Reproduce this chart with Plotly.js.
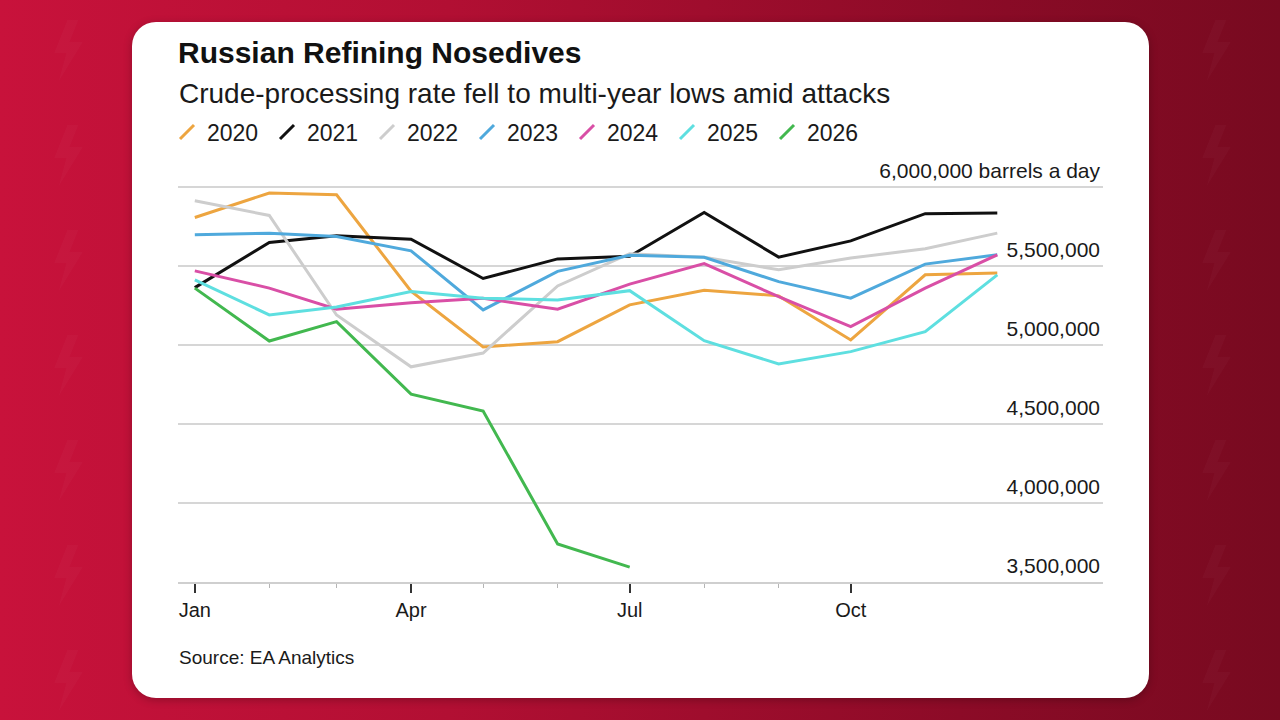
<!DOCTYPE html>
<html>
<head>
<meta charset="utf-8">
<script src="https://cdn.plot.ly/plotly-3.0.1.min.js"></script>
<style>
  html, body { margin:0; padding:0; width:1280px; height:720px; overflow:hidden; }
  body { background: linear-gradient(90deg, #c8123b 0%, #b20f33 35%, #8c0b27 75%, #780a20 100%); position:relative; font-family:"Liberation Sans", Arial, sans-serif; }
  #bg { position:absolute; left:0; top:0; width:1280px; height:720px; }
  #card { position:absolute; left:132px; top:22px; width:1017px; height:676px; background:#fff; border-radius:24px; box-shadow: 0 2px 8px rgba(0,0,0,0.25); }
  #chart { position:absolute; left:0; top:0; width:1280px; height:720px; }
</style>
</head>
<body>
<svg id="bg" width="1280" height="720"></svg>
<div id="card"></div>
<div id="chart"></div>
<script>
// ---- data (barrels a day) ----
const months = ['2021-01-01','2021-02-01','2021-03-01','2021-04-01','2021-05-01','2021-06-01',
                '2021-07-01','2021-08-01','2021-09-01','2021-10-01','2021-11-01','2021-12-01'];
const years = ['2020','2021','2022','2023','2024','2025','2026'];
const y2020 = [5807000,5962000,5951000,5340000,4987000,5021000,5254000,5347000,5311000,5032000,5444000,5455000];
const y2021 = [5363000,5649000,5691000,5670000,5421000,5545000,5562000,5839000,5556000,5659000,5831000,5835000];
const y2022 = [5913000,5820000,5190000,4862000,4949000,5374000,5578000,5556000,5476000,5550000,5609000,5708000];
const y2023 = [5698000,5708000,5687000,5596000,5222000,5466000,5568000,5555000,5401000,5296000,5512000,5571000];
const y2024 = [5469000,5360000,5226000,5268000,5296000,5226000,5385000,5515000,5306000,5116000,5360000,5571000];
const y2025 = [5412000,5190000,5240000,5338000,5296000,5285000,5344000,5027000,4880000,4958000,5084000,5444000];
const y2026 = [5360000,5025000,5148000,4689000,4582000,3741000,3594000];
const series = [y2020,y2021,y2022,y2023,y2024,y2025,y2026];
const colors = ['#eda540','#111111','#cdcdcd','#4fa9dc','#d94fa6','#5edfe0','#42b84f'];
const yTickVals = [3500000,4000000,4500000,5000000,5500000,6000000];
const yTickText = ['3,500,000','4,000,000','4,500,000','5,000,000','5,500,000','6,000,000 barrels a day'];
const xTickVals = ['2021-01-01','2021-04-01','2021-07-01','2021-10-01'];
const xTickText = ['Jan','Apr','Jul','Oct'];

// ---- background bolts (decoration) ----
(function(){
  const svg = document.getElementById('bg');
  const bolt = 'M14,0 L2,30 L13,30 L6,56 L28,20 L16,20 L24,0 Z';
  const pos = [];
  for (let i=0;i<7;i++){ pos.push([52, 20+i*105]); pos.push([1200, 20+i*105]); }
  let s='';
  pos.forEach(p=>{ s += '<path d="'+bolt+'" transform="translate('+p[0]+','+p[1]+') scale(1.1)" fill="#ffffff" fill-opacity="0.025"/>'; });
  svg.innerHTML = s;
})();

const traces = [];
years.forEach((yr,i)=>{
  traces.push({
    type:'scatter', mode:'lines', name:yr, legendgroup:yr, showlegend:false,
    x: months.slice(0, series[i].length), y: series[i],
    line:{color:colors[i], width:3}, hoverinfo:'x+y'
  });
});
// legend-only entries with slanted stroke symbols
years.forEach((yr,i)=>{
  traces.push({
    type:'scatter', mode:'markers', name:yr, legendgroup:yr, showlegend:true,
    x:[null], y:[null],
    marker:{symbol:'line-ne', size:14, color:colors[i], line:{color:colors[i], width:3}}
  });
});

// plot box in pixels; 6,000,000 gridline sits at y=187, 3,500,000 (axis line) at y=582
const L = 178, R = 1103, T = 150, B = 582;
const W = R-L, H = B-T;
const pxPerM = (582-187)/2.5;              // pixels per million barrels
const yTop = 3500000 + (B-T)/pxPerM*1e6;    // value at top edge of plot box
const px = x => (x-L)/W;
const py = y => (B-y)/H;

const layout = {
  width:1280, height:720,
  paper_bgcolor:'rgba(0,0,0,0)', plot_bgcolor:'rgba(0,0,0,0)',
  margin:{l:L, r:1280-R, t:T, b:720-B, pad:0},
  font:{family:'"Liberation Sans", Arial, sans-serif', color:'#1a1a1a'},
  title:{text:'<b>Russian Refining Nosedives</b>', font:{size:30, color:'#111'},
         x:178/1280, xanchor:'left', xref:'container', y:1-52/720, yanchor:'middle', yref:'container'},
  showlegend:true,
  legend:{orientation:'h', x:px(167), xanchor:'left', y:py(132), yanchor:'middle',
          font:{size:23, color:'#1a1a1a'}, entrywidth:55, entrywidthmode:'pixels',
          bgcolor:'rgba(0,0,0,0)', borderwidth:0, itemclick:false, itemdoubleclick:false, traceorder:'normal'},
  xaxis:{type:'date', range:['2020-12-25','2022-01-14'],
         tickvals:xTickVals, ticktext:xTickText, ticks:'outside', ticklen:9, tickwidth:2, tickcolor:'#333',
         tickfont:{size:20, color:'#1a1a1a'},
         minor:{tickvals:months, ticks:'outside', ticklen:4, tickwidth:1, tickcolor:'#b5b5b5', showgrid:false},
         showgrid:false, zeroline:false, showline:true, linecolor:'#cfcfcf', linewidth:2,
         fixedrange:true},
  yaxis:{range:[3500000,yTop], side:'right', tickvals:yTickVals, ticktext:yTickText,
         ticklabelposition:'inside', ticklabelshift:-16, ticks:'', tickfont:{size:21, color:'#1a1a1a'},
         showgrid:true, gridcolor:'#d6d6d6', gridwidth:1.5, zeroline:false, showline:false, fixedrange:true},
  annotations:[
    {text:'Crude-processing rate fell to multi-year lows amid attacks', xref:'paper', yref:'paper',
     x:px(177), y:py(93), xanchor:'left', yanchor:'middle', showarrow:false, font:{size:28, color:'#1a1a1a'}},
    {text:'Source: EA Analytics', xref:'paper', yref:'paper',
     x:px(177), y:py(657), xanchor:'left', yanchor:'middle', showarrow:false, font:{size:19, color:'#1a1a1a'}}
  ]
};

Plotly.newPlot('chart', traces, layout, {displayModeBar:false, staticPlot:true});
</script>
</body>
</html>
